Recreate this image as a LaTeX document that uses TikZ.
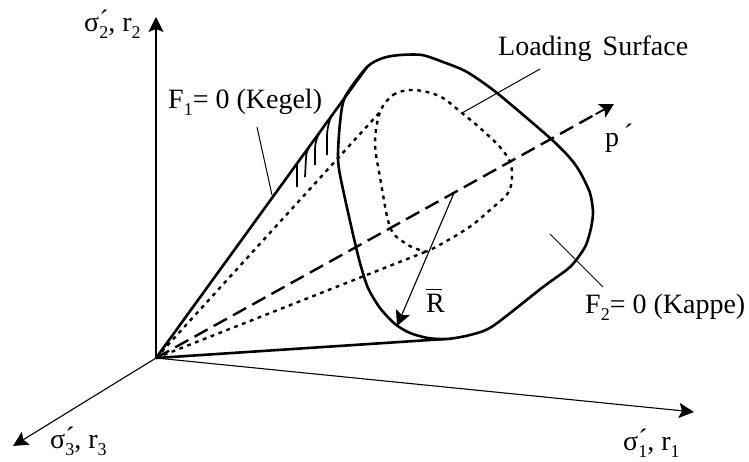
\documentclass[tikz,border=0pt]{standalone}
\usepackage{fontspec}
\setmainfont{Liberation Serif}
\usetikzlibrary{arrows.meta,calc}
\newcommand{\lowtxt}[1]{\raisebox{-0.28em}{\fontsize{18}{18}\selectfont #1}}
\newcommand{\sigtxt}[2]{σ\rlap{\raisebox{0.05em}{´}}\lowtxt{#1}, r\lowtxt{#2}}

\begin{document}
\begin{tikzpicture}[
    x=1pt,
    y=-1pt,
    >={Stealth[length=15pt,width=15pt,inset=3pt]},
    lbl/.style={
        inner sep=0pt,
        anchor=base west,
        font=\fontsize{28}{28}\selectfont
    },
    axis/.style={->, line width=1.1pt},
    leader/.style={line width=1pt},
    surf/.style={line width=2.6pt, line join=round},
    hatchline/.style={line width=1.7pt},
    dotline/.style={line width=2.4pt, dash pattern=on 3.8pt off 4.6pt},
    dashline/.style={line width=2.4pt, dash pattern=on 15pt off 7pt}
]
\useasboundingbox (0,0) rectangle (749,461);

% axes
\coordinate (orig) at (156,358);
\coordinate (xend) at (694,412);
\coordinate (yend) at (156,17);
\coordinate (zend) at (13,446);
\draw[axis] (orig) -- (yend);
\draw[axis] (orig) -- (xend);
\draw[axis] (orig) -- (zend);

% cone lines
\coordinate (tantop) at (367,67);
\coordinate (tanlow) at (445,339);
\coordinate (loadtop) at (380,112);
\coordinate (loadlow) at (430,250);
\coordinate (pend) at (614,104);
\draw[surf] (orig) -- (tantop);
\draw[surf] (orig) -- (tanlow);
\draw[dotline] (orig) -- (loadtop);
\draw[dotline] (orig) -- (loadlow);
\draw[dashline] (orig) -- ($(orig)!0.96!(pend)$);
\draw[-{Stealth[length=14pt,width=15pt,inset=3pt]}, line width=1.8pt] ($(orig)!0.96!(pend)$) -- (pend);

% outer surface
\draw[surf, smooth cycle, tension=0.45] plot coordinates {
    (345,97) (367,67) (383,58) (400,55) (422,55) (443,62) (467,72) (497,93)
    (550,138) (570,158) (580,172) (590,193) (593,212) (591,228) (585,247)
    (570,267) (543,287) (493,326) (470,335) (447,339) (428,338) (410,333)
    (395,324) (380,308) (368,288) (360,263) (352,230) (340,175) (338,155)
    (340,123)};

% loading surface
\draw[dotline, smooth cycle, tension=0.55] plot coordinates {
    (380,112) (393,95) (410,90) (427,92) (443,98) (462,113) (480,128) (500,147)
    (510,162) (512,177) (508,193) (490,210) (468,228) (430,250) (420,250)
    (405,243) (390,227) (380,177) (375,143)};

% hatching
\draw[hatchline] (297,187) -- (297,163);
\draw[hatchline] (305,177) -- (306,158) .. controls (306,153) and (308,149) .. (310,146);
\draw[hatchline] (315,165) -- (315,149) .. controls (315,143) and (317,137) .. (320,132);
\draw[hatchline] (327,155) -- (327,137) .. controls (327,129) and (329,121) .. (332,115);

% leaders
\coordinate (kegA) at (257,127);
\coordinate (kegB) at (272,195);
\coordinate (loadA) at (540,69);
\coordinate (loadB) at (462,113);
\coordinate (kapA) at (550,234);
\coordinate (kapB) at (603,287);
\coordinate (rA) at (454,193);
\coordinate (rB) at (397,326);
\draw[leader] (kegA) -- (kegB);
\draw[leader] (loadA) -- (loadB);
\draw[leader] (kapA) -- (kapB);
\draw[->, line width=1.1pt] (rA) -- (rB);

% labels
\node[lbl] (ysig) at (84,31) {\sigtxt{2}{2}};
\node[lbl] (keg) at (168,108) {F\lowtxt{1}= 0 (Kegel)};
\node[lbl] (load) at (498,55) {Loading\hspace{0.15em} Surface};
\node[lbl] (pp) at (605,146) {p\,\raisebox{0.1em}{´}};
\node[lbl] (rbar) at (426,312) {\rlap{\raisebox{0.78em}{\rule{16pt}{0.7pt}}}R};
\node[lbl] (kap) at (585,313) {F\lowtxt{2}= 0 (Kappe)};
\node[lbl] (xsig) at (623,450) {\sigtxt{1}{1}};
\node[lbl] (zsig) at (50,448) {\sigtxt{3}{3}};

\end{tikzpicture}
\end{document}
